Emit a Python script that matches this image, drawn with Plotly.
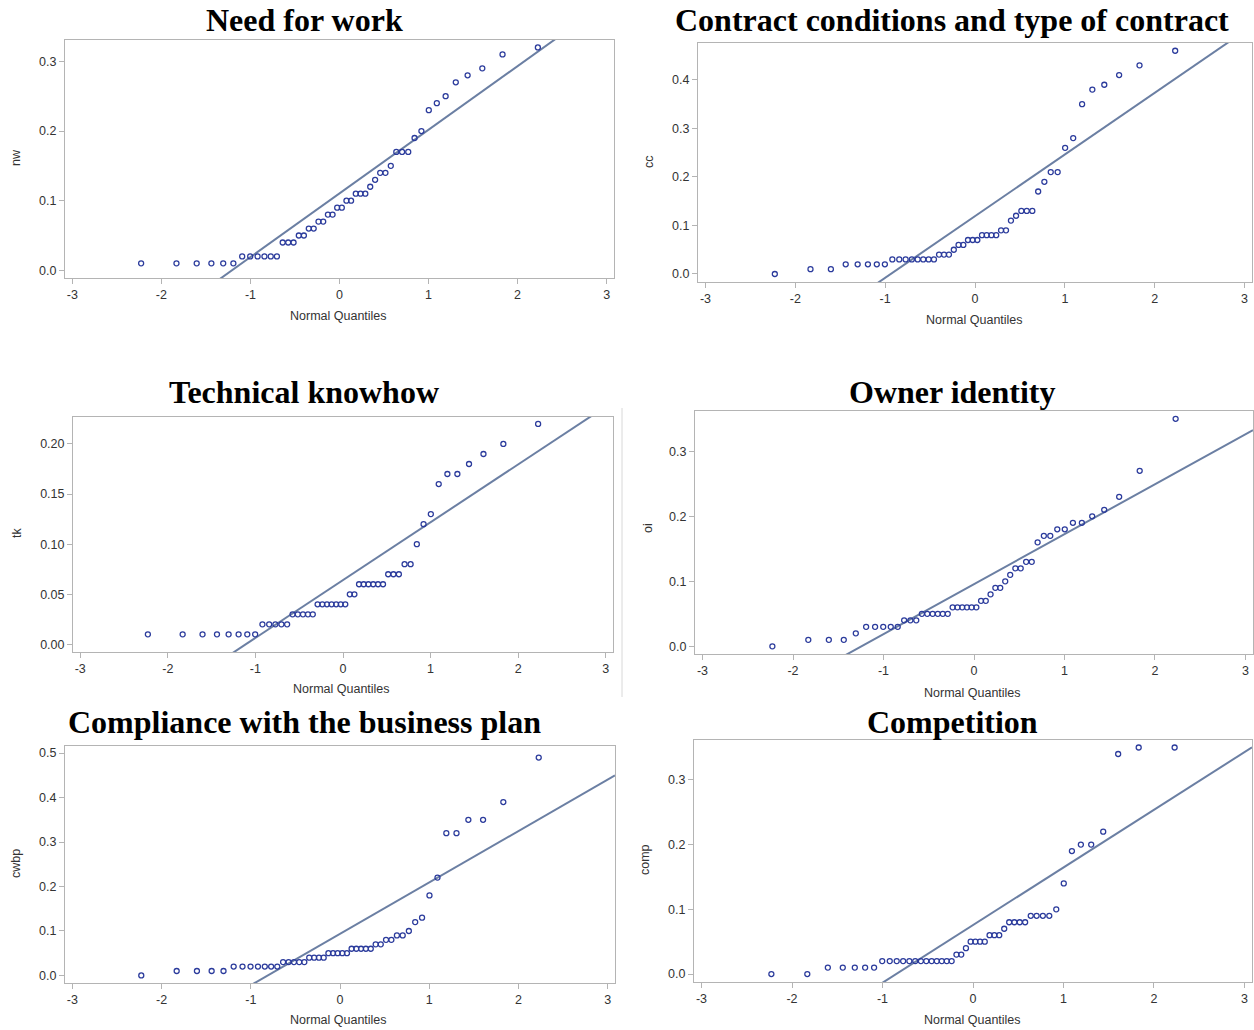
import numpy as np
import plotly.graph_objects as go

# Normal quantiles (Blom) for n = 48 observations
normal_quantiles = [
    -2.228, -1.831, -1.604, -1.439, -1.306, -1.192, -1.093, -1.003,
    -0.920, -0.843, -0.772, -0.703, -0.638, -0.576, -0.516, -0.457,
    -0.400, -0.345, -0.290, -0.236, -0.183, -0.130, -0.078, -0.026,
    0.026, 0.078, 0.130, 0.183, 0.236, 0.290, 0.345, 0.400,
    0.457, 0.516, 0.576, 0.638, 0.703, 0.772, 0.843, 0.920,
    1.003, 1.093, 1.192, 1.306, 1.439, 1.604, 1.831, 2.228,
]

nw = [0.01]*6 + [0.02]*6 + [0.04]*3 + [0.05]*2 + [0.06]*2 + [0.07]*2 + [0.08]*2 + \
     [0.09]*2 + [0.10]*2 + [0.11]*3 + [0.12, 0.13, 0.14, 0.14, 0.15] + [0.17]*3 + \
     [0.19, 0.20, 0.23, 0.24, 0.25, 0.27, 0.28, 0.29, 0.31, 0.32]

cc = [0.00, 0.01, 0.01] + [0.02]*5 + [0.03]*8 + [0.04]*3 + [0.05, 0.06, 0.06] + \
     [0.07]*3 + [0.08]*4 + [0.09, 0.09, 0.11, 0.12] + [0.13]*3 + \
     [0.17, 0.19, 0.21, 0.21, 0.26, 0.28, 0.35, 0.38, 0.39, 0.41, 0.43, 0.46]

tk = [0.01]*8 + [0.02]*5 + [0.03]*5 + [0.04]*7 + [0.05]*2 + [0.06]*6 + [0.07]*3 + \
     [0.08]*2 + [0.10, 0.12, 0.13, 0.16, 0.17, 0.17, 0.18, 0.19, 0.20, 0.22]

oi = [0.00] + [0.01]*3 + [0.02] + [0.03]*5 + [0.04]*3 + [0.05]*6 + [0.06]*6 + \
     [0.07, 0.07, 0.08, 0.09, 0.09, 0.10, 0.11, 0.12, 0.12, 0.13, 0.13, 0.16, 0.17, 0.17,
      0.18, 0.18, 0.19, 0.19, 0.20, 0.21, 0.23, 0.27, 0.35]

cwbp = [0.00] + [0.01]*4 + [0.02]*7 + [0.03]*5 + [0.04]*4 + [0.05]*5 + [0.06]*5 + \
       [0.07, 0.07, 0.08, 0.08, 0.09, 0.09, 0.10, 0.12, 0.13, 0.18, 0.22, 0.32, 0.32,
        0.35, 0.35, 0.39, 0.49]

comp = [0.00, 0.00] + [0.01]*5 + [0.02]*13 + [0.03, 0.03, 0.04] + [0.05]*4 + [0.06]*3 + \
       [0.07] + [0.08]*4 + [0.09]*4 + [0.10, 0.14, 0.19, 0.20, 0.20, 0.22, 0.34, 0.35, 0.35]

x_tick_vals = [-3, -2, -1, 0, 1, 2, 3]
x_tick_text = ["-3", "-2", "-1", "0", "1", "2", "3"]

panels = [
    dict(title="Need for work", var="nw", y=nw,
         box=(65, 614, 40, 278), yr=(-0.011, 0.3307), dt=0.1, fmt=".1f",
         tpos=(304, 20), xt=(338, 316), yt=(16, 158)),
    dict(title="Contract conditions and type of contract", var="cc", y=cc,
         box=(698, 1252, 43, 282), yr=(-0.0165, 0.476), dt=0.1, fmt=".1f",
         tpos=(952, 20), xt=(974, 320), yt=(649, 162)),
    dict(title="Technical knowhow", var="tk", y=tk,
         box=(73, 613, 417, 652), yr=(-0.0076, 0.2269), dt=0.05, fmt=".2f",
         tpos=(304, 392), xt=(341, 689), yt=(17, 533)),
    dict(title="Owner identity", var="oi", y=oi,
         box=(695, 1253, 411, 654), yr=(-0.0118, 0.362), dt=0.1, fmt=".1f",
         tpos=(952, 392), xt=(972, 693), yt=(648, 528)),
    dict(title="Compliance with the business plan", var="cwbp", y=cwbp,
         box=(65, 615, 746, 983), yr=(-0.017, 0.516), dt=0.1, fmt=".1f",
         tpos=(304, 722), xt=(338, 1020), yt=(16, 864)),
    dict(title="Competition", var="comp", y=comp,
         box=(694, 1252, 740, 982), yr=(-0.0123, 0.3616), dt=0.1, fmt=".1f",
         tpos=(952, 722), xt=(972, 1020), yt=(645, 860)),
]

W, H = 1254, 1030
XR = (-3.083, 3.083)
MARKER_COLOR = "#2B3B9C"
LINE_COLOR = "#6B7FA3"
FRAME = "#B4B4B4"
TICKFONT = dict(family="Liberation Sans, Arial, sans-serif", size=12.5, color="#333333")

fig = go.Figure()
annotations = []
layout = {}

for i, p in enumerate(panels, start=1):
    xa = "x" if i == 1 else f"x{i}"
    ya = "y" if i == 1 else f"y{i}"
    x0, x1, y0, y1 = p["box"]
    q = np.array(normal_quantiles)
    vals = np.array(p["y"])
    mu, sd = vals.mean(), vals.std(ddof=1)
    fig.add_trace(go.Scatter(
        x=list(XR), y=[mu + sd * XR[0], mu + sd * XR[1]], mode="lines",
        line=dict(color=LINE_COLOR, width=2), xaxis=xa, yaxis=ya,
        showlegend=False, hoverinfo="skip"))
    fig.add_trace(go.Scatter(
        x=q, y=vals, mode="markers",
        marker=dict(symbol="circle-open", size=5, color=MARKER_COLOR,
                    line=dict(width=1.3, color=MARKER_COLOR)),
        xaxis=xa, yaxis=ya, showlegend=False, cliponaxis=False))
    axis_common = dict(showgrid=False, zeroline=False, showline=True, mirror=True,
                       linecolor=FRAME, linewidth=1, ticks="outside", ticklen=5,
                       tickcolor=FRAME, tickfont=TICKFONT)
    layout["xaxis" if i == 1 else f"xaxis{i}"] = dict(
        domain=[x0 / W, x1 / W], range=list(XR), tickmode="array",
        tickvals=x_tick_vals, ticktext=x_tick_text, anchor=ya, **axis_common)
    layout["yaxis" if i == 1 else f"yaxis{i}"] = dict(
        domain=[1 - y1 / H, 1 - y0 / H], range=list(p["yr"]), tickmode="linear",
        tick0=0, dtick=p["dt"], tickformat=p["fmt"], anchor=xa, **axis_common)
    annotations.append(dict(
        text=f"<b>{p['title']}</b>", x=p["tpos"][0] / W, y=1 - p["tpos"][1] / H,
        xref="paper", yref="paper", showarrow=False, xanchor="center", yanchor="middle",
        font=dict(family="Liberation Serif, Times New Roman, serif", size=32, color="#000000")))
    annotations.append(dict(
        text="Normal Quantiles", x=p["xt"][0] / W, y=1 - p["xt"][1] / H,
        xref="paper", yref="paper", showarrow=False, xanchor="center", yanchor="middle",
        font=TICKFONT))
    annotations.append(dict(
        text=p["var"], x=p["yt"][0] / W, y=1 - p["yt"][1] / H, textangle=-90,
        xref="paper", yref="paper", showarrow=False, xanchor="center", yanchor="middle",
        font=TICKFONT))

fig.update_layout(
    width=W, height=H, margin=dict(l=0, r=0, t=0, b=0),
    paper_bgcolor="white", plot_bgcolor="white",
    annotations=annotations,
    shapes=[dict(type="line", xref="paper", yref="paper",
                 x0=622 / W, x1=622 / W, y0=1 - 697 / H, y1=1 - 408 / H,
                 line=dict(color="#D8D8D8", width=1))],
    **layout)

fig.write_html("out.html", config={"displayModeBar": False},
               post_script="document.body.style.margin='0';")
